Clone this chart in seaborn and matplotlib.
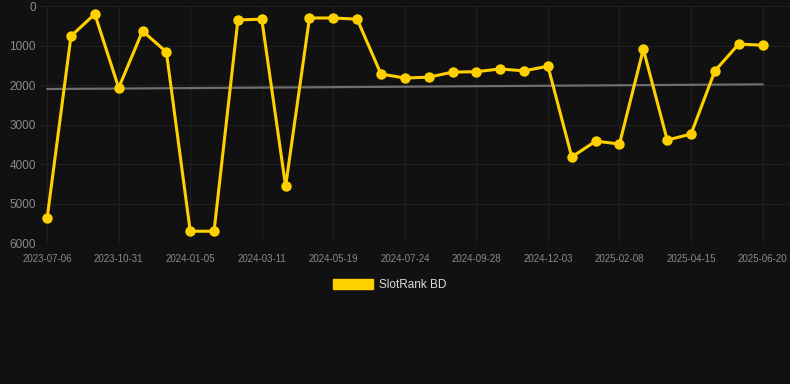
import numpy as np
import pandas as pd
import matplotlib
matplotlib.use("Agg")
import matplotlib.pyplot as plt
from matplotlib.patches import Patch
import seaborn as sns

# rank values (lower = better, axis is inverted)
rank = [5370, 760, 200, 2070, 630, 1160, 5700, 5700, 350, 330,
        4560, 300, 300, 330, 1720, 1820, 1800, 1670, 1660, 1590,
        1640, 1520, 3820, 3420, 3490, 1090, 3390, 3240, 1640, 960, 990]
tick_labels = ["2023-07-06", "2023-10-31", "2024-01-05", "2024-03-11",
               "2024-05-19", "2024-07-24", "2024-09-28", "2024-12-03",
               "2025-02-08", "2025-04-15", "2025-06-20"]
y_ticks = [0, 1000, 2000, 3000, 4000, 5000, 6000]
series_name = "SlotRank BD"

bg = "#111111"
gold = "#FFD000"

df = pd.DataFrame({"idx": np.arange(len(rank)), "rank": rank})

sns.set_style("dark")
plt.rcParams["font.family"] = ["Liberation Sans", "DejaVu Sans"]

fig = plt.figure(figsize=(7.9, 3.84), dpi=100, facecolor=bg)
ax = fig.add_axes([0.0506, 0.367, 0.9494, 0.617])
ax.set_facecolor(bg)

# linear trend line
coef = np.polyfit(df["idx"], df["rank"], 1)
trend = np.polyval(coef, df["idx"])
ax.plot(df["idx"], trend, color="#6e6e6e", linewidth=1.6, zorder=2)

sns.lineplot(data=df, x="idx", y="rank", ax=ax, color=gold, linewidth=2.2,
             marker="o", markersize=7.5, markeredgewidth=0, zorder=3)

ax.set_ylim(6000, 0)
ax.set_xlim(-0.3, len(rank) - 1 + 1.15)
ax.set_yticks(y_ticks)
ax.set_yticklabels([str(v) for v in y_ticks])
ax.set_xticks(df["idx"][::3])
ax.set_xticklabels(tick_labels)

ax.grid(True, color="#1f1f1f", linewidth=0.8)
ax.axhline(6000, color="#2b2b2b", linewidth=0.8, zorder=1)
ax.tick_params(axis="y", colors="#1f1f1f", labelcolor="#8a8a8a",
               labelsize=8.5, length=0, pad=3)
ax.tick_params(axis="x", colors="#1f1f1f", labelcolor="#8a8a8a",
               labelsize=7, length=6, width=0.8, pad=2)
for s in ax.spines.values():
    s.set_visible(False)
ax.set_xlabel("")
ax.set_ylabel("")

handles = [Patch(facecolor=gold, edgecolor=gold, label=series_name)]
fig.legend(handles=handles, loc="center", bbox_to_anchor=(0.493, 0.258),
           frameon=False, fontsize=8.5, labelcolor="#dddddd",
           handlelength=3.4, handleheight=0.9, handletextpad=0.5)

fig.savefig("out.png", dpi=100, facecolor=bg)
